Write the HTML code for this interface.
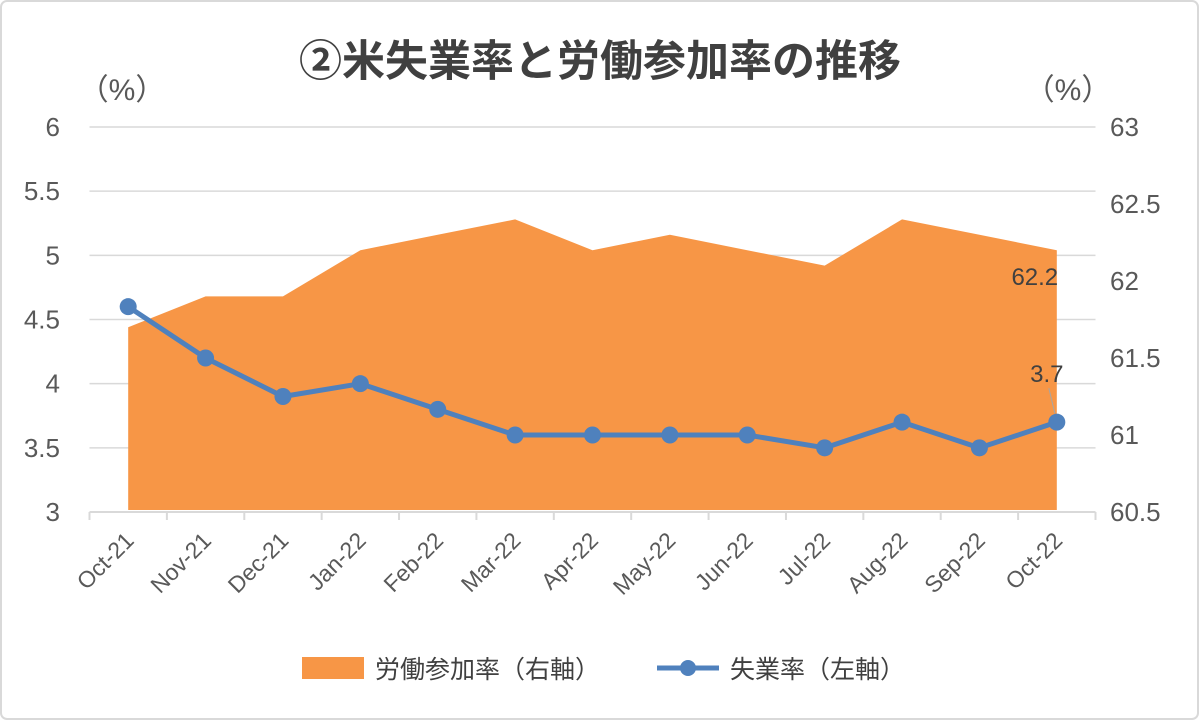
<!DOCTYPE html>
<html><head><meta charset="utf-8"><style>
html,body{margin:0;padding:0;background:#fff}
svg{display:block;font-family:"Liberation Sans","Noto Sans CJK JP",sans-serif}
</style></head><body>
<svg width="1200" height="721" viewBox="0 0 1200 721">
<rect x="1" y="1" width="1197" height="718" fill="#fff" stroke="#d9d9d9" stroke-width="2" rx="6"/>
<text x="600" y="76" text-anchor="middle" font-size="43" font-weight="bold" fill="#404040">②米失業率と労働参加率の推移</text>
<text x="122" y="100" text-anchor="middle" font-size="30" fill="#595959">（%）</text>
<text x="1068" y="100" text-anchor="middle" font-size="30" fill="#595959">（%）</text>
<g id="grid"></g>
<g id="area"></g>
<g id="line"></g>
<g id="axes"></g>
<g>
<rect x="302" y="657" width="62" height="22" fill="#f79646"/>
<text x="375" y="678" font-size="25" fill="#404040">労働参加率（右軸）</text>
<line x1="657" y1="668" x2="719" y2="668" stroke="#4f81bd" stroke-width="5"/>
<circle cx="688" cy="668" r="8" fill="#4f81bd"/>
<text x="730" y="678" font-size="25" fill="#404040">失業率（左軸）</text>
</g>
</svg>
<script>
const categories=["Oct-21","Nov-21","Dec-21","Jan-22","Feb-22","Mar-22","Apr-22","May-22","Jun-22","Jul-22","Aug-22","Sep-22","Oct-22"];
const participation=[61.7,61.9,61.9,62.2,62.3,62.4,62.2,62.3,62.2,62.1,62.4,62.3,62.2];
const unemployment=[4.6,4.2,3.9,4.0,3.8,3.6,3.6,3.6,3.6,3.5,3.7,3.5,3.7];
const leftTicks=["3","3.5","4","4.5","5","5.5","6"];
const rightTicks=["60.5","61","61.5","62","62.5","63"];
const NS="http://www.w3.org/2000/svg";
const X0=89.5,X1=1095.5,Y0=512,Y1=127;
const step=(X1-X0)/categories.length;
const xc=i=>X0+step*(i+0.5);
const yL=v=>Y0-(v-3)/3*(Y0-Y1);
const yR=v=>Y0-(v-60.5)/2.5*(Y0-Y1);
function mk(t,a,p){const e=document.createElementNS(NS,t);for(const k in a)e.setAttribute(k,a[k]);p.appendChild(e);return e;}
const grid=document.getElementById('grid'),area=document.getElementById('area'),line=document.getElementById('line'),axes=document.getElementById('axes');
leftTicks.forEach(t=>{const v=parseFloat(t),y=yL(v);
 if(v>3){const g=mk('line',{x1:X0,x2:X1,y1:y,y2:y,stroke:'#d9d9d9','stroke-width':1.5},grid);
 
 }
 const tx=mk('text',{x:60,y:y+9,'text-anchor':'end','font-size':26,fill:'#595959'},axes);tx.textContent=t;
 
 });
rightTicks.forEach(t=>{const y=yR(parseFloat(t));
 const tx=mk('text',{x:1110,y:y+9,'font-size':26,fill:'#595959'},axes);tx.textContent=t;
 
 });
let d='M'+xc(0)+','+(Y0-2);
participation.forEach((v,i)=>{d+=' L'+xc(i)+','+yR(v);});
d+=' L'+xc(participation.length-1)+','+(Y0-2)+' Z';
const ar=mk('path',{d:d,fill:'#f79646'},area);


const ax=mk('line',{x1:X0,x2:X1,y1:Y0,y2:Y0,stroke:'#d9d9d9','stroke-width':2},axes);


for(let i=0;i<=categories.length;i++){const x=X0+step*i;
 const tk=mk('line',{x1:x,x2:x,y1:Y0,y2:Y0+8,stroke:'#d9d9d9','stroke-width':2},axes);
 
 }
categories.forEach((c,i)=>{const x=xc(i)+7,y=Y0+30;
 const tx=mk('text',{x:x,y:y,'text-anchor':'end','font-size':23,fill:'#595959',transform:`rotate(-45 ${x} ${y})`},axes);tx.textContent=c;
 
 });
const pl=mk('polyline',{points:unemployment.map((v,i)=>xc(i)+','+yL(v)).join(' '),fill:'none',stroke:'#4f81bd','stroke-width':5,'stroke-linejoin':'round'},line);


unemployment.forEach((v,i)=>{const c=mk('circle',{cx:xc(i),cy:yL(v),r:8.5,fill:'#4f81bd'},line);
 
 });
const n=categories.length-1;
const l1=mk('text',{x:xc(n)-22,y:yR(participation[n])+35,'text-anchor':'middle','font-size':24,fill:'#404040'},axes);l1.textContent=participation[n].toFixed(1);


const l2=mk('text',{x:xc(n)-10,y:yL(unemployment[n])-40,'text-anchor':'middle','font-size':24,fill:'#404040'},axes);l2.textContent=unemployment[n].toFixed(1);


const ld=mk('line',{x1:xc(n)-8,y1:yL(unemployment[n])-34,x2:xc(n)-2,y2:yL(unemployment[n])-9,stroke:'#a6a6a6','stroke-width':1},axes);


</script>
</body></html>
